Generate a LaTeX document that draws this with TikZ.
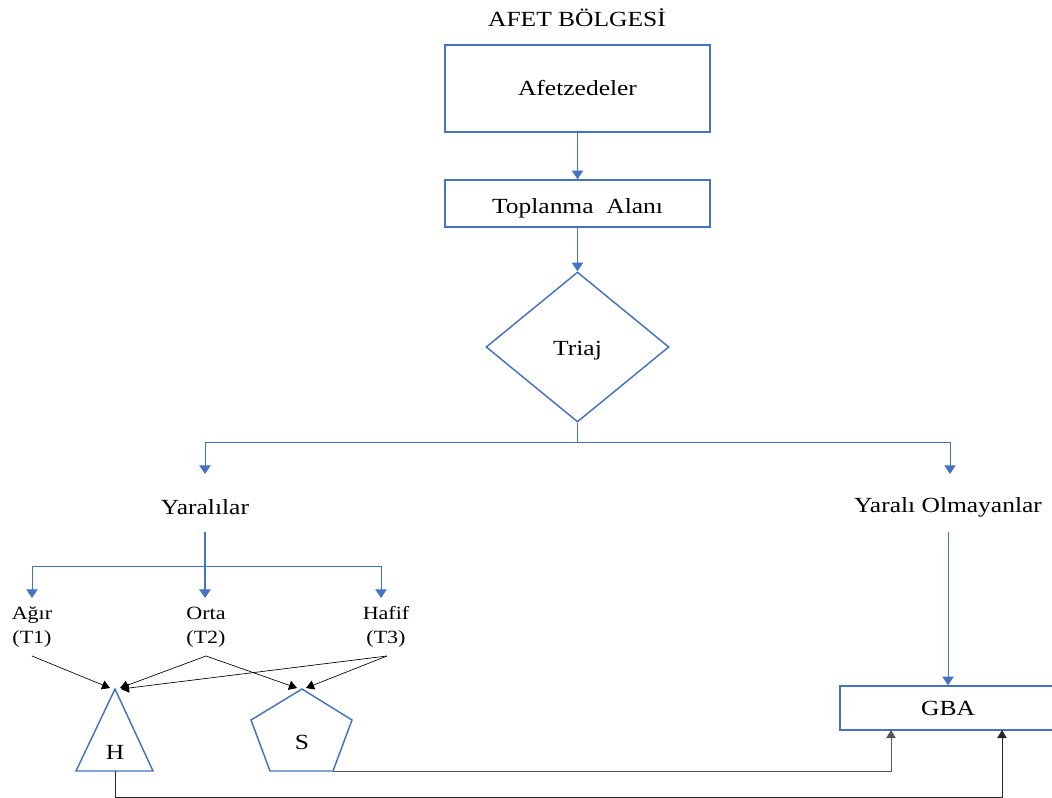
\documentclass[tikz,border=0pt]{standalone}
\usepackage{fontspec}
\setmainfont{Liberation Serif}[FakeStretch=1.18]
\usetikzlibrary{shapes.geometric,arrows.meta}
\definecolor{bl}{HTML}{4472C4}
\definecolor{gr}{HTML}{555555}
\begin{document}
\begin{tikzpicture}[x=0.75pt,y=-0.75pt,
  txt/.style={font=\fontsize{16.2}{19}\selectfont, inner sep=0pt},
  small/.style={font=\fontsize{14}{18}\selectfont, inner sep=0pt, align=center},
  box/.style={draw=bl, line width=1.1pt, txt},
  bconn/.style={draw=bl, line width=0.75pt, -{Triangle[width=8.5pt,length=6.5pt]}},
  bline/.style={draw=bl, line width=0.75pt},
  kconn/.style={draw=black, line width=0.5pt, -{Triangle[width=7pt,length=6pt]}},
  gconn/.style={draw=gr, line width=0.7pt, -{Triangle[width=7pt,length=6pt]}}]
\useasboundingbox (0,0) rectangle (1052,798);
% nodes
\node[txt] (title) at (577,18) {AFET BÖLGESİ};
\node[box, minimum width=198.75pt, minimum height=65.25pt] (afet) at (577.5,88.5) {Afetzedeler};
\node[box, minimum width=198.75pt, minimum height=35.25pt, text height=19pt, text depth=3.5pt] (topl) at (577.5,203.5) {Toplanma\ \ Alanı};
\node[draw=bl, line width=1.1pt, diamond, aspect=1.22, minimum width=137.25pt, minimum height=112.5pt, txt, text height=16.7pt, text depth=3.5pt] (triaj) at (577.5,347) {Triaj};
\node[txt] (yar) at (205,507) {Yaralılar};
\node[txt] (yaro) at (948,507) {Yaralı Olmayanlar};
\node[small] (agir) at (32,627) {Ağır\\(T1)};
\node[small] (orta) at (206,627) {Orta\\(T2)};
\node[small] (hafif) at (386,627) {Hafif\\(T3)};
\node[box, minimum width=162pt, minimum height=33pt] (gba) at (948,708) {GBA};
% shapes H and S
\coordinate (Htop) at (115,689);
\coordinate (Hbot) at (115,771);
\coordinate (Stop) at (302,689);
\coordinate (Sbr) at (333,771);
\draw[bl, line width=1.1pt, line join=miter] (Htop) -- (153,771) -- (76,771) -- cycle;
\draw[bl, line width=1.1pt, line join=miter] (Stop) -- (352,720) -- (Sbr) -- (270,771) -- (251,720) -- cycle;
\node[txt] (H) at (115,752) {H};
\node[txt] (S) at (302,742) {S};
% top connectors
\draw[bconn] (afet.south) -- (topl.north);
\draw[bconn] (topl.south) -- (triaj.north);
\coordinate (tj) at (577.5,442);
\coordinate (tl) at (205,442);
\coordinate (tr) at (950,442);
\coordinate (yarT) at (205,474);
\coordinate (yaroT) at (950,474);
\draw[bline] (triaj.south) -- (tj);
\draw[bline] (tl) -- (tr);
\draw[bconn] (tl) -- (yarT);
\draw[bconn] (tr) -- (yaroT);
% Yaralilar split
\coordinate (yb) at (205,532);
\coordinate (hl) at (32,566);
\coordinate (hr) at (381,566);
\coordinate (agirT) at (32,598);
\coordinate (ortaT) at (205,598);
\coordinate (hafifT) at (381,598);
\draw[bl, line width=1.5pt, -{Triangle[width=8.5pt,length=6.5pt]}] (yb) -- (ortaT);
\draw[bline] (hl) -- (hr);
\draw[bconn] (hl) -- (agirT);
\draw[bconn] (hr) -- (hafifT);
% black arrows
\coordinate (agirB) at (32,656);
\coordinate (ortaB) at (206,656);
\coordinate (hafifB) at (387,656);
\draw[kconn] (agirB) -- (110,688);
\draw[kconn] (ortaB) -- (120,688);
\draw[kconn] (hafifB) -- (121,689);
\draw[kconn] (ortaB) -- (297,688);
\draw[kconn] (hafifB) -- (306,688);
% right
\coordinate (yaroB) at (948,532);
\draw[bconn] (yaroB) -- (gba.north);
\draw[gconn] (Sbr) -- (891,771) -- (891,730);
\draw[gconn, draw=black!85] (Hbot) -- (115,797) -- (1002,797) -- (1002,730);
\end{tikzpicture}
\end{document}
